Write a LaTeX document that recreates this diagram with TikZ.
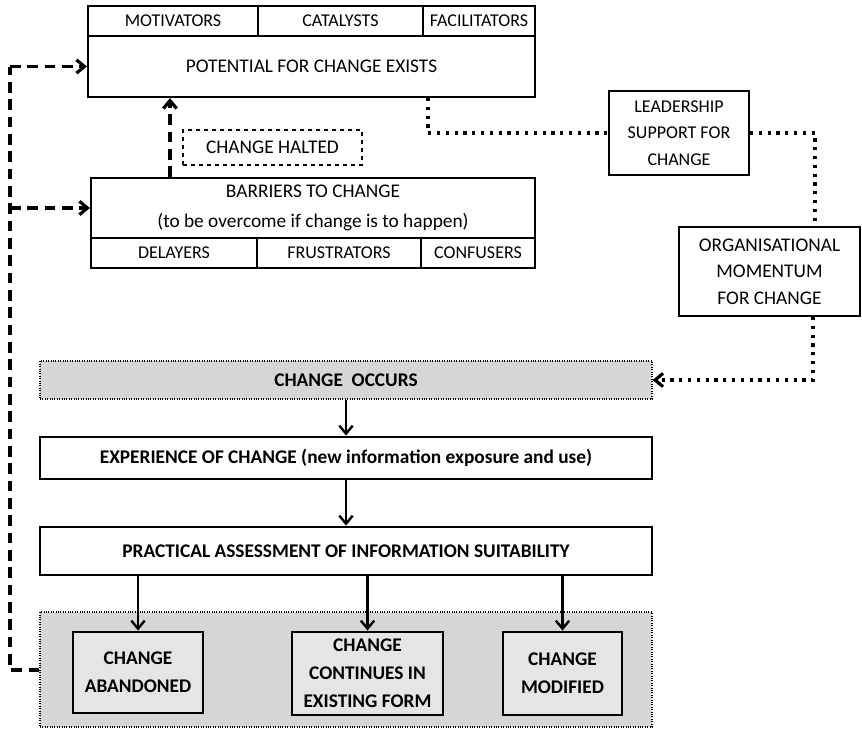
\documentclass[tikz,border=0pt]{standalone}
\usepackage{fontspec}
\setmainfont{Carlito}
\usepackage{tikz}
\usetikzlibrary{arrows.meta}
\usetikzlibrary{calc}
\usetikzlibrary{positioning}

\begin{document}
\begin{tikzpicture}[x=0.75pt,y=-0.75pt,>={Straight Barb[length=6pt,width=10pt]},semithick]
	\tikzstyle{cell}=[draw, line width=1.2pt, inner sep=0pt, font=\fontsize{13.5}{15}\selectfont]
	\tikzstyle{big}=[draw, line width=1.6pt, inner sep=0pt, align=center, font=\fontsize{14.5}{22}\selectfont]
	\tikzstyle{side}=[draw, line width=1.6pt, inner sep=0pt, align=center, font=\fontsize{13.5}{20}\selectfont]
	\tikzstyle{grey}=[draw, fill=black!16, densely dotted, line width=0.8pt, inner sep=0pt]
	\tikzstyle{stage}=[draw, fill=white, line width=2.2pt, inner sep=0pt, font=\bfseries\fontsize{14.5}{15}\selectfont]
	\tikzstyle{result}=[draw, fill=black!10, line width=2.2pt, inner sep=0pt, align=center, font=\bfseries\fontsize{14.5}{21}\selectfont]
	\tikzstyle{loop}=[line width=2.4pt, dash pattern=on 8pt off 5pt]
	\tikzstyle{dots}=[line width=2.4pt, dash pattern=on 2.4pt off 4.2pt]
	\tikzstyle{flow}=[->, line width=1.8pt]

	\useasboundingbox (0,0) rectangle (862,728);

	\node[cell, minimum width=127.5pt, minimum height=22.5pt] (mot) at (173,21) {MOTIVATORS};
	\node[cell, minimum width=123.75pt, minimum height=22.5pt] (cat) at (340.5,21) {CATALYSTS};
	\node[cell, minimum width=84pt, minimum height=22.5pt] (fac) at (479,21) {FACILITATORS};
	\node[big, minimum width=335.25pt, minimum height=45.75pt] (pot) at (311.5,66.5) {POTENTIAL FOR CHANGE EXISTS};

	\node[big, minimum width=333pt, minimum height=45pt] (bar) at (313,208) {BARRIERS TO CHANGE\\(to be overcome if change is to happen)};
	\node[cell, minimum width=124.5pt, minimum height=22.5pt] (del) at (174,253) {DELAYERS};
	\node[cell, minimum width=123pt, minimum height=22.5pt] (fru) at (339,253) {FRUSTRATORS};
	\node[cell, minimum width=85.5pt, minimum height=22.5pt] (con) at (478,253) {CONFUSERS};

	\node[big, dashed, line width=1.3pt, minimum width=134.25pt, minimum height=26.25pt] (halt) at (272.5,147.5) {CHANGE HALTED};

	\node[side, minimum width=105pt, minimum height=63pt] (lead) at (679,133) {LEADERSHIP\\SUPPORT FOR\\CHANGE};
	\node[side, minimum width=135.75pt, minimum height=66.75pt, font=\fontsize{14.5}{20}\selectfont] (org) at (769.5,271.5) {ORGANISATIONAL\\MOMENTUM\\FOR CHANGE};

	\node[grey, minimum width=459pt, minimum height=28.5pt, font=\bfseries\fontsize{14.5}{15}\selectfont] (occ) at (346,380) {CHANGE\ \ OCCURS};
	\node[stage, minimum width=459pt, minimum height=31.5pt] (exp) at (346,458) {EXPERIENCE OF CHANGE (new information exposure and use)};
	\node[stage, minimum width=459pt, minimum height=36pt] (pra) at (346,551) {PRACTICAL ASSESSMENT OF INFORMATION SUITABILITY};

	\node[grey, minimum width=459pt, minimum height=86.25pt] (out) at (346,669.5) {};
	\node[result, minimum width=97.5pt, minimum height=60.75pt] (aba) at (138,672.5) {CHANGE\\ABANDONED};
	\node[result, minimum width=113.25pt, minimum height=62.25pt] (cnt) at (367.5,673.5) {CHANGE\\CONTINUES IN\\EXISTING FORM};
	\node[result, minimum width=89.25pt, minimum height=62.25pt] (mod) at (562.5,673.5) {CHANGE\\MODIFIED};

	\coordinate (lft) at (10,670);

	\draw[loop] (out.west |- lft) -- (lft) -- (lft |- bar.west) -- (lft |- pot.west);
	\draw[loop, ->] (lft |- bar.west) -- (bar.west);
	\draw[loop, ->] (lft |- pot.west) -- (pot.west);
	\draw[loop, ->] (bar.north -| 170,0) -- (pot.south -| 170,0);

	\draw[dots] (pot.south -| 428,0) |- (lead.west);
	\draw[dots] (lead.east) -| (org.north -| 815,0);
	\draw[dots, ->] (org.south -| 813,0) |- (occ.east);

	\path[flow]
		(occ) edge (exp)
		(exp) edge (pra)
		(pra.south -| aba) edge (aba)
		(pra.south -| cnt) edge (cnt)
		(pra.south -| mod) edge (mod)
		;
\end{tikzpicture}
\end{document}
